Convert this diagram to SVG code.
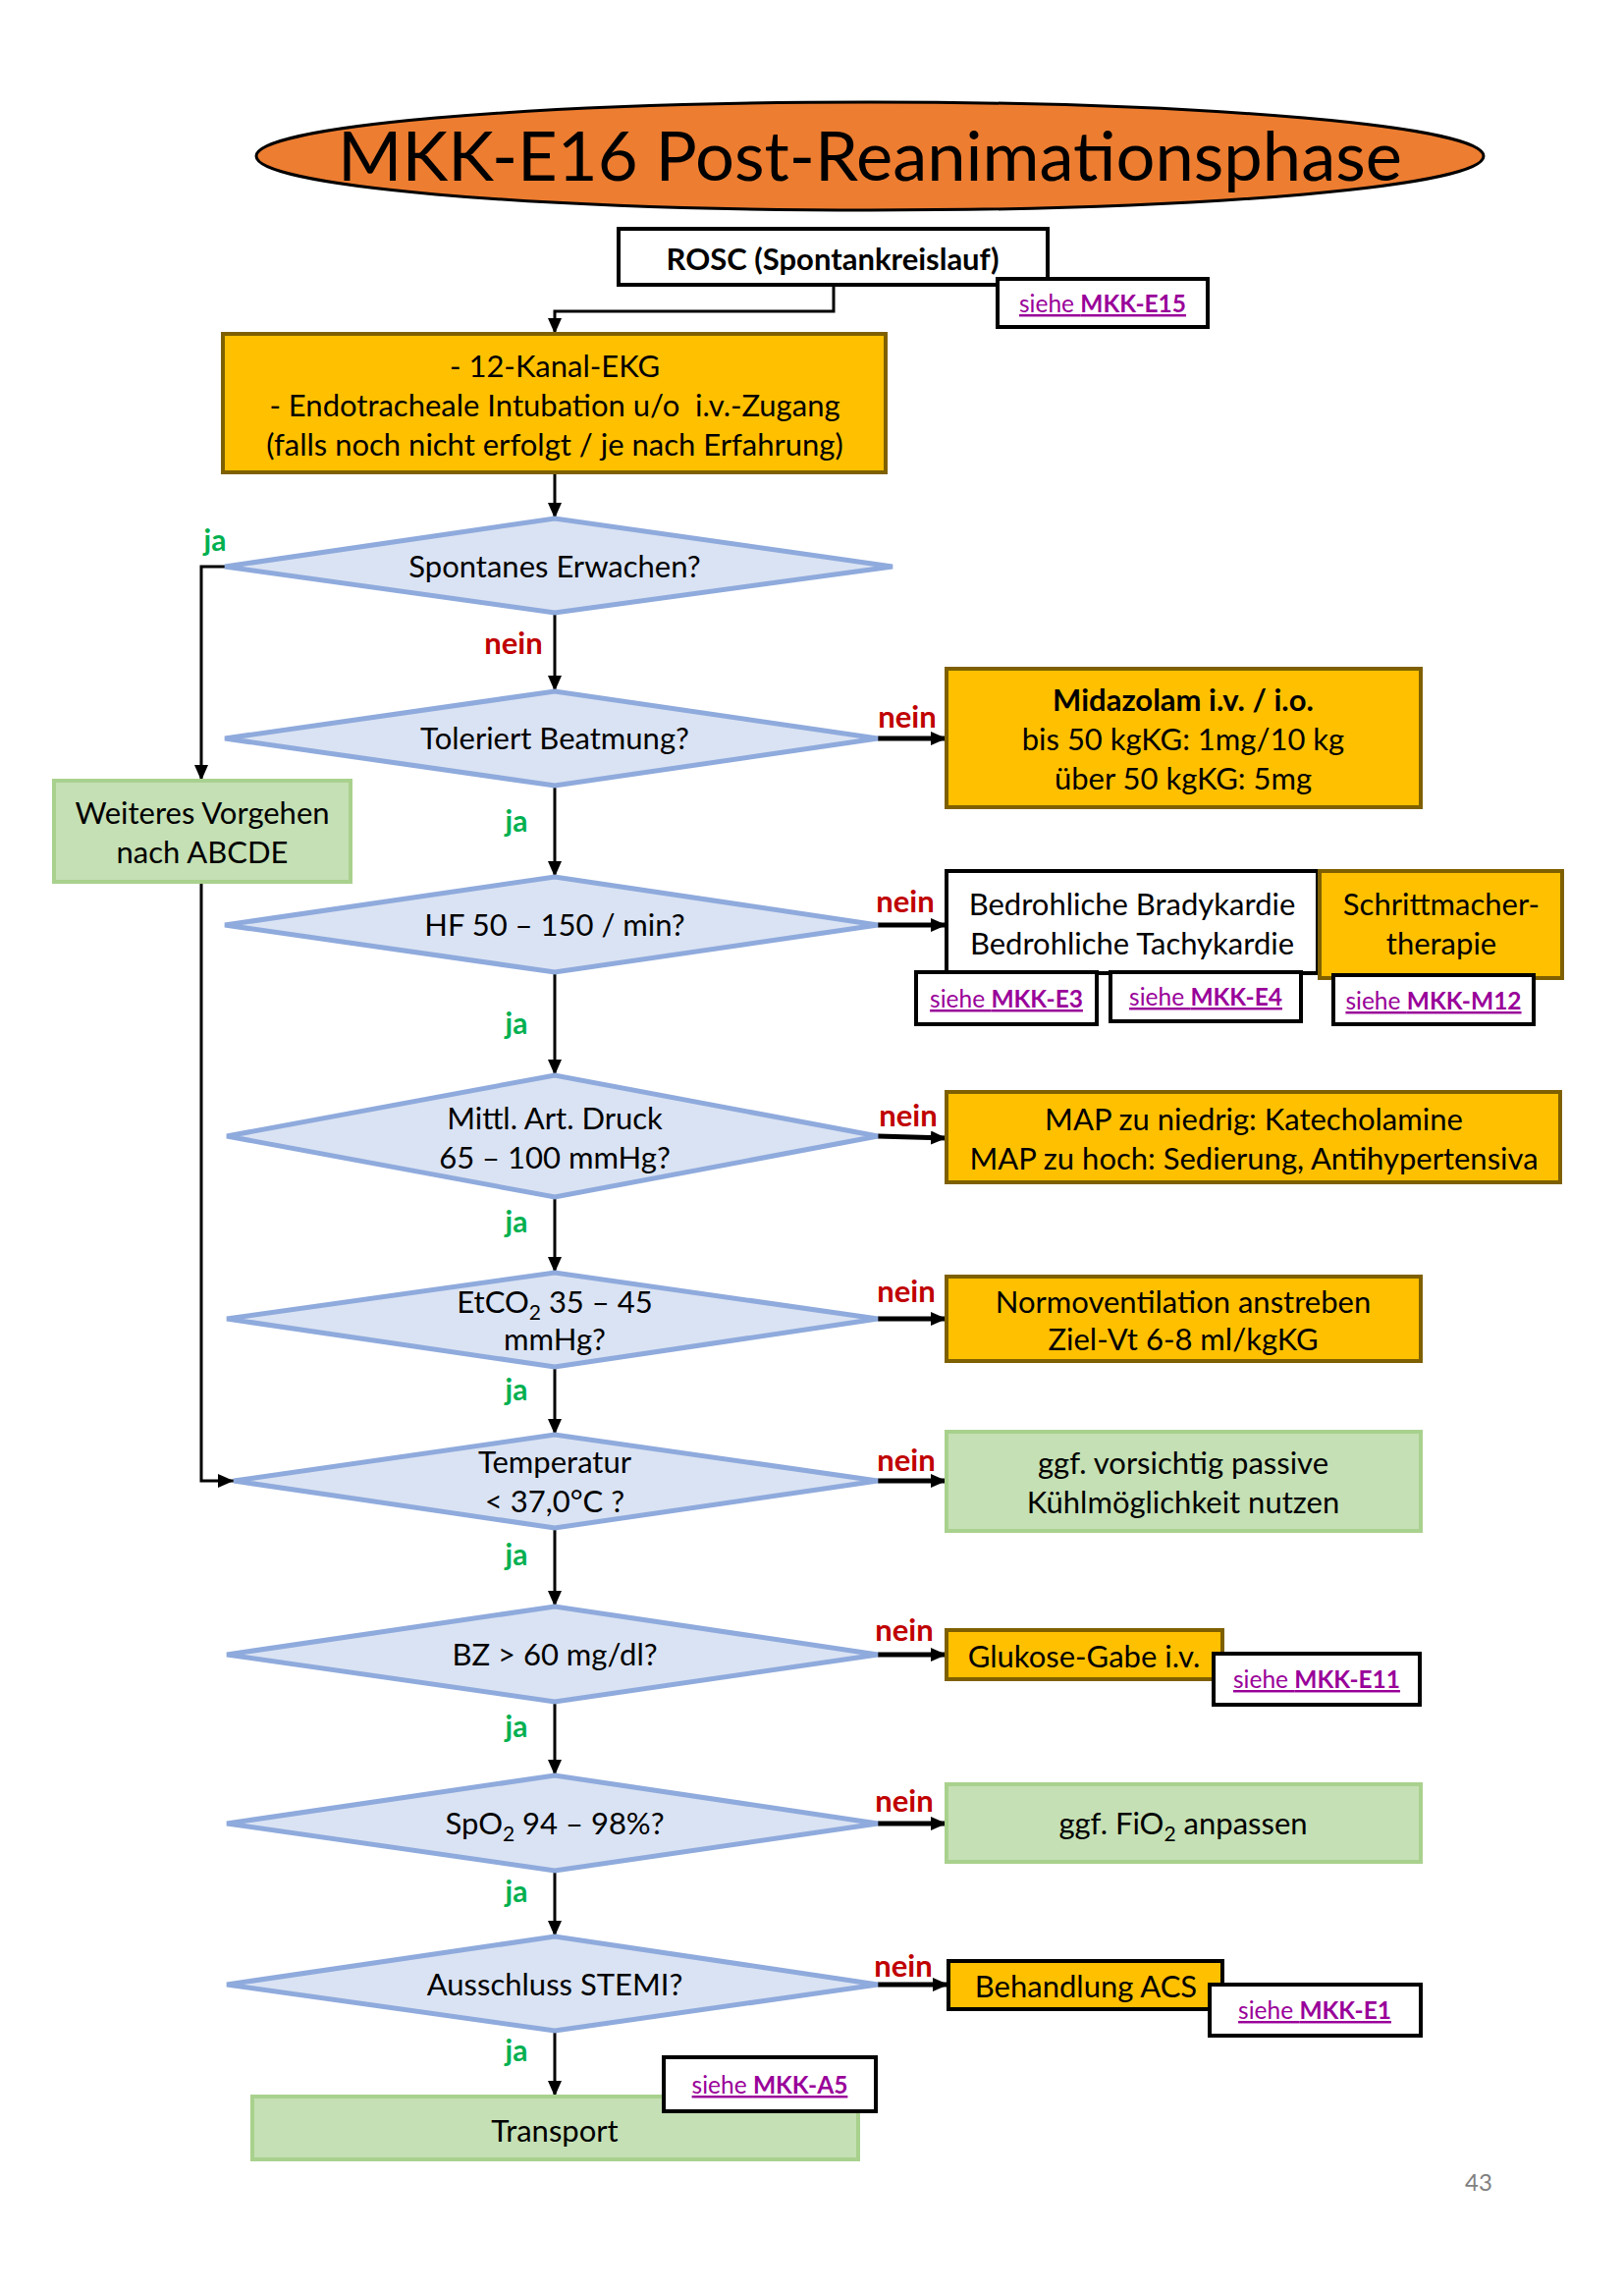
<svg xmlns="http://www.w3.org/2000/svg" width="1654" height="2331" viewBox="0 0 1654 2331">
<style>
text{font-family:Lato,"Open Sans","Liberation Sans",sans-serif;fill:#000;text-anchor:middle}
.t{font-size:31px}
.b{font-weight:bold}
.ja{font-size:30px;font-weight:bold;fill:#00B050}
.nein{font-size:31px;font-weight:bold;fill:#C00000}
.link{font-size:24.5px;fill:#990099;text-decoration:underline}
.dia{fill:#DAE3F3;stroke:#8FAADC;stroke-width:5}
.org{fill:#FFC000;stroke:#7F6000;stroke-width:4}
.grn{fill:#C5E0B4;stroke:#A9D18E;stroke-width:4}
.wht{fill:#fff;stroke:#000;stroke-width:4}
.c{fill:none;stroke:#000;stroke-width:3}
.ch{fill:none;stroke:#000;stroke-width:5}
</style>
<defs>
<marker id="ar" viewBox="0 0 16 14" refX="16" refY="7" markerWidth="16" markerHeight="14" markerUnits="userSpaceOnUse" orient="auto">
<path d="M0,0 L16,7 L0,14 z" fill="#000"/>
</marker>
</defs>
<rect width="1654" height="2331" fill="#fff"/>

<g id="title">
<ellipse cx="886" cy="159" rx="625" ry="55" fill="#ED7D31" stroke="#000" stroke-width="3"/>
<text x="886" y="184" font-size="70.5">MKK-E16 Post-Reanimationsphase</text>
</g>

<g id="connectors">
<polyline class="c" points="849,290 849,317 565,317 565,340" marker-end="url(#ar)"/>
<line class="c" x1="565" y1="481" x2="565" y2="528" marker-end="url(#ar)"/>
<polyline class="c" points="229,577 205,577 205,795" marker-end="url(#ar)"/>
<polyline class="c" points="205,898 205,1508 238,1508" marker-end="url(#ar)"/>
<line class="c" x1="565" y1="624" x2="565" y2="704" marker-end="url(#ar)"/>
<line class="ch" x1="894" y1="752" x2="964" y2="752" marker-end="url(#ar)"/>
<line class="c" x1="565" y1="800" x2="565" y2="893" marker-end="url(#ar)"/>
<line class="ch" x1="894" y1="942" x2="964" y2="942" marker-end="url(#ar)"/>
<line class="c" x1="565" y1="990" x2="565" y2="1095" marker-end="url(#ar)"/>
<line class="ch" x1="894" y1="1157" x2="964" y2="1159" marker-end="url(#ar)"/>
<line class="c" x1="565" y1="1219" x2="565" y2="1296" marker-end="url(#ar)"/>
<line class="ch" x1="894" y1="1343" x2="964" y2="1343" marker-end="url(#ar)"/>
<line class="c" x1="565" y1="1392" x2="565" y2="1461" marker-end="url(#ar)"/>
<line class="ch" x1="894" y1="1508" x2="964" y2="1508" marker-end="url(#ar)"/>
<line class="c" x1="565" y1="1556" x2="565" y2="1636" marker-end="url(#ar)"/>
<line class="ch" x1="894" y1="1685" x2="964" y2="1685" marker-end="url(#ar)"/>
<line class="c" x1="565" y1="1733" x2="565" y2="1808" marker-end="url(#ar)"/>
<line class="ch" x1="894" y1="1857" x2="964" y2="1857" marker-end="url(#ar)"/>
<line class="c" x1="565" y1="1905" x2="565" y2="1972" marker-end="url(#ar)"/>
<line class="ch" x1="894" y1="2021" x2="966" y2="2021" marker-end="url(#ar)"/>
<line class="c" x1="565" y1="2068" x2="565" y2="2135" marker-end="url(#ar)"/>
</g>

<g id="labels">
<text class="ja" x="219" y="561">ja</text>
<text class="nein" x="523" y="666">nein</text>
<text class="nein" x="924" y="741">nein</text>
<text class="ja" x="526" y="847">ja</text>
<text class="nein" x="922" y="929">nein</text>
<text class="ja" x="526" y="1053">ja</text>
<text class="nein" x="925" y="1147">nein</text>
<text class="ja" x="526" y="1255">ja</text>
<text class="nein" x="923" y="1326">nein</text>
<text class="ja" x="526" y="1426">ja</text>
<text class="nein" x="923" y="1498">nein</text>
<text class="ja" x="526" y="1594">ja</text>
<text class="nein" x="921" y="1671">nein</text>
<text class="ja" x="526" y="1769">ja</text>
<text class="nein" x="921" y="1845">nein</text>
<text class="ja" x="526" y="1937">ja</text>
<text class="nein" x="920" y="2013">nein</text>
<text class="ja" x="526" y="2099">ja</text>
</g>

<g id="rosc">
<rect class="wht" x="630" y="233" width="437" height="57"/>
<text class="t b" x="848" y="275">ROSC (Spontankreislauf)</text>
</g>
<g id="link-e15">
<rect class="wht" x="1016" y="284" width="214" height="49"/>
<text class="link" x="1123" y="318">siehe <tspan font-weight="bold">MKK-E15</tspan></text>
</g>

<g id="ekg">
<rect class="org" x="227" y="340" width="675" height="141"/>
<text class="t" x="565" y="384">- 12-Kanal-EKG</text>
<text class="t" x="565" y="424" xml:space="preserve">- Endotracheale Intubation u/o  i.v.-Zugang</text>
<text class="t" x="565" y="464">(falls noch nicht erfolgt / je nach Erfahrung)</text>
</g>

<g id="d-spontan">
<polygon class="dia" points="229,577 565,528 909,577 565,624"/>
<text class="t" x="565" y="588">Spontanes Erwachen?</text>
</g>

<g id="abcde">
<rect class="grn" x="55" y="795" width="302" height="103"/>
<text class="t" x="206" y="839">Weiteres Vorgehen</text>
<text class="t" x="206" y="879">nach ABCDE</text>
</g>

<g id="d-beatmung">
<polygon class="dia" points="229,752 565,704 894,752 565,800"/>
<text class="t" x="565" y="763">Toleriert Beatmung?</text>
</g>

<g id="midazolam">
<rect class="org" x="964" y="681" width="483" height="141"/>
<text class="t b" x="1205" y="724">Midazolam i.v. / i.o.</text>
<text class="t" x="1205" y="764">bis 50 kgKG: 1mg/10 kg</text>
<text class="t" x="1205" y="804">über 50 kgKG: 5mg</text>
</g>

<g id="d-hf">
<polygon class="dia" points="229,942 565,893 894,942 565,990"/>
<text class="t" x="565" y="953">HF 50 – 150 / min?</text>
</g>

<g id="brady">
<rect class="wht" x="964" y="887" width="378" height="104"/>
<text class="t" x="1153" y="932">Bedrohliche Bradykardie</text>
<text class="t" x="1153" y="972">Bedrohliche Tachykardie</text>
</g>
<g id="schrittmacher">
<rect class="org" x="1344" y="887" width="247" height="109"/>
<text class="t" x="1468" y="932">Schrittmacher-</text>
<text class="t" x="1468" y="972">therapie</text>
</g>
<g id="link-e3">
<rect class="wht" x="933" y="990" width="184" height="53"/>
<text class="link" x="1025" y="1026">siehe <tspan font-weight="bold">MKK-E3</tspan></text>
</g>
<g id="link-e4">
<rect class="wht" x="1131" y="990" width="194" height="50"/>
<text class="link" x="1228" y="1024">siehe <tspan font-weight="bold">MKK-E4</tspan></text>
</g>
<g id="link-m12">
<rect class="wht" x="1358" y="993" width="204" height="50"/>
<text class="link" x="1460" y="1028">siehe <tspan font-weight="bold">MKK-M12</tspan></text>
</g>

<g id="d-map">
<polygon class="dia" points="231,1157 565,1095 894,1157 565,1219"/>
<text class="t" x="565" y="1150">Mittl. Art. Druck</text>
<text class="t" x="565" y="1190">65 – 100 mmHg?</text>
</g>

<g id="map">
<rect class="org" x="964" y="1112" width="625" height="92"/>
<text class="t" x="1277" y="1151">MAP zu niedrig: Katecholamine</text>
<text class="t" x="1277" y="1191">MAP zu hoch: Sedierung, Antihypertensiva</text>
</g>

<g id="d-etco2">
<polygon class="dia" points="231,1343 565,1296 894,1343 565,1392"/>
<text class="t" x="565" y="1337">EtCO<tspan font-size="21" dy="7">2</tspan><tspan dy="-7"> 35 – 45</tspan></text>
<text class="t" x="565" y="1375">mmHg?</text>
</g>

<g id="normo">
<rect class="org" x="964" y="1300" width="483" height="86"/>
<text class="t" x="1205" y="1337">Normoventilation anstreben</text>
<text class="t" x="1205" y="1375">Ziel-Vt 6-8 ml/kgKG</text>
</g>

<g id="d-temp">
<polygon class="dia" points="238,1508 565,1461 894,1508 565,1556"/>
<text class="t" x="565" y="1500">Temperatur</text>
<text class="t" x="565" y="1540">&lt; 37,0°C ?</text>
</g>

<g id="kuehlung">
<rect class="grn" x="964" y="1458" width="483" height="101"/>
<text class="t" x="1205" y="1501">ggf. vorsichtig passive</text>
<text class="t" x="1205" y="1541">Kühlmöglichkeit nutzen</text>
</g>

<g id="d-bz">
<polygon class="dia" points="231,1685 565,1636 894,1685 565,1733"/>
<text class="t" x="565" y="1696">BZ &gt; 60 mg/dl?</text>
</g>

<g id="glukose">
<rect class="org" x="964" y="1660" width="281" height="50"/>
<text class="t" x="1104" y="1698">Glukose-Gabe i.v.</text>
</g>
<g id="link-e11">
<rect class="wht" x="1236" y="1684" width="210" height="52"/>
<text class="link" x="1341" y="1719">siehe <tspan font-weight="bold">MKK-E11</tspan></text>
</g>

<g id="d-spo2">
<polygon class="dia" points="231,1857 565,1808 894,1857 565,1905"/>
<text class="t" x="565" y="1868">SpO<tspan font-size="21" dy="7">2</tspan><tspan dy="-7"> 94 – 98%?</tspan></text>
</g>

<g id="fio2">
<rect class="grn" x="964" y="1817" width="483" height="79"/>
<text class="t" x="1205" y="1868">ggf. FiO<tspan font-size="21" dy="7">2</tspan><tspan dy="-7"> anpassen</tspan></text>
</g>

<g id="d-stemi">
<polygon class="dia" points="231,2021 565,1972 894,2021 565,2068"/>
<text class="t" x="565" y="2032">Ausschluss STEMI?</text>
</g>

<g id="acs">
<rect x="966" y="1997" width="279" height="49" fill="#FFC000" stroke="#000" stroke-width="4"/>
<text class="t" x="1106" y="2034">Behandlung ACS</text>
</g>
<g id="link-e1">
<rect class="wht" x="1232" y="2021" width="215" height="52"/>
<text class="link" x="1339" y="2056">siehe <tspan font-weight="bold">MKK-E1</tspan></text>
</g>

<g id="transport">
<rect class="grn" x="257" y="2135" width="617" height="64"/>
<text class="t" x="565" y="2181">Transport</text>
</g>
<g id="link-a5">
<rect class="wht" x="676" y="2095" width="216" height="55"/>
<text class="link" x="784" y="2132">siehe <tspan font-weight="bold">MKK-A5</tspan></text>
</g>

<text x="1506" y="2231" font-size="24" style="fill:#808080">43</text>
</svg>
